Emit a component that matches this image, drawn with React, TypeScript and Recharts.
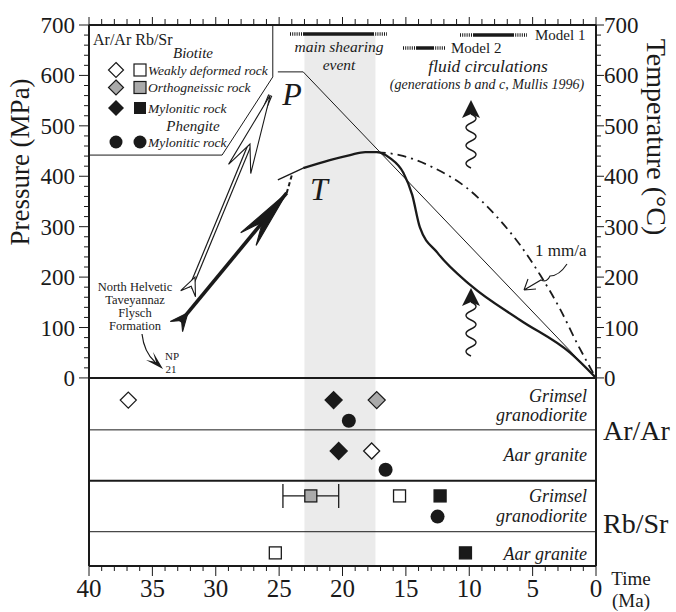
import React from "react";
import {
  ComposedChart,
  Line,
  Scatter,
  XAxis,
  YAxis,
  ReferenceArea,
  ReferenceLine,
  ErrorBar,
} from "recharts";

const SERIF = '"Liberation Serif", "Times New Roman", serif';
const INK = "#1a1a1a";

// axes
const AGE_LABELS = [40, 35, 30, 25, 20, 15, 10, 5, 0];
const AGE_TICKS = Array.from({ length: 41 }, (_, i) => 40 - i);
const PT_LABELS = [0, 100, 200, 300, 400, 500, 600, 700];
const PT_TICKS = Array.from({ length: 36 }, (_, i) => i * 20);
const Y_MIN = -373; // lower (geochronology) panel sits below 0 on the same scale

// main shearing event (Ma)
const SHEAR_EVENT = [23, 17.4];

// P-T-t paths: age (Ma) / value (MPa or °C)
const LEGEND_BOX = [
  { age: 25.5, v: 700 },
  { age: 25.5, v: 597 },
  { age: 29.5, v: 442 },
  { age: 40, v: 442 },
];
const P_LINE = [
  { age: 25.1, v: 607 },
  { age: 23.1, v: 607 },
  { age: 0, v: 0 },
];
const MODEL1_LEAD = [
  { age: 25.1, v: 393 },
  { age: 23.1, v: 416 },
];
const MODEL1 = [
  { age: 23.1, v: 416 },
  { age: 21.0, v: 432 },
  { age: 19.4, v: 442 },
  { age: 18.2, v: 448 },
  { age: 17.3, v: 448 },
  { age: 16.25, v: 436 },
  { age: 15.2, v: 407 },
  { age: 14.5, v: 363 },
  { age: 13.9, v: 299 },
  { age: 12.5, v: 248 },
  { age: 9.9, v: 184 },
  { age: 6.0, v: 115 },
  { age: 2.05, v: 50 },
  { age: 0, v: 0 },
];
const MODEL2 = [
  { age: 17.3, v: 448 },
  { age: 15.5, v: 442 },
  { age: 12.9, v: 418 },
  { age: 10.2, v: 377 },
  { age: 7.8, v: 319 },
  { age: 6.0, v: 264 },
  { age: 4.4, v: 204 },
  { age: 2.8, v: 135 },
  { age: 1.5, v: 69 },
  { age: 0, v: 0 },
];
const P_ARROW = [
  { age: 32.0, v: 178 },
  { age: 25.7, v: 561 },
];
const T_ARROW = [
  { age: 32.8, v: 111 },
  { age: 24.4, v: 367 },
];
const T_LINK = [
  { age: 24.4, v: 367 },
  { age: 24.0, v: 402 },
];

// sample rows in the lower panel
const ROW_LEVEL: Record<string, number> = {
  grimselArBt: -44,
  grimselArPh: -85,
  aarArBt: -145,
  aarArPh: -182,
  grimselRbBt: -234,
  grimselRbPh: -275,
  aarRbBt: -347,
};
const ROW_LINES = [0, -103, -204, -305];

// cooling ages (Ma)
const ARAR_WEAK = [
  { age: 36.9, row: "grimselArBt" },
  { age: 17.7, row: "aarArBt" },
];
const ARAR_ORTHO = [{ age: 17.3, row: "grimselArBt" }];
const ARAR_MYLO = [
  { age: 20.7, row: "grimselArBt" },
  { age: 20.3, row: "aarArBt" },
];
const ARAR_PHENGITE = [
  { age: 19.5, row: "grimselArPh" },
  { age: 16.6, row: "aarArPh" },
];
const RBSR_WEAK = [
  { age: 15.5, row: "grimselRbBt" },
  { age: 25.3, row: "aarRbBt" },
];
const RBSR_ORTHO = [{ age: 22.5, err: 2.2, row: "grimselRbBt" }];
const RBSR_MYLO = [
  { age: 12.3, row: "grimselRbBt" },
  { age: 10.3, row: "aarRbBt" },
];
const RBSR_PHENGITE = [{ age: 12.5, row: "grimselRbPh" }];

const place = (rows: { age: number; row: string; err?: number }[]) =>
  rows.map((d) => ({ ...d, v: ROW_LEVEL[d.row] }));

// marker shapes
const diamond = (fill: string, r: number) => (p: any) => (
  <path
    d={`M${p.cx},${p.cy - r}L${p.cx + r},${p.cy}L${p.cx},${p.cy + r}L${p.cx - r},${p.cy}Z`}
    fill={fill}
    stroke={INK}
    strokeWidth={1.3}
  />
);
const square = (fill: string, h: number) => (p: any) => (
  <rect x={p.cx - h} y={p.cy - h} width={h * 2} height={h * 2} fill={fill} stroke={INK} strokeWidth={1.3} />
);
const circle = (r: number) => (p: any) => <circle cx={p.cx} cy={p.cy} r={r} fill={INK} />;

const arrowHead =
  (angle: number, len: number, half: number, notch: number, fill: string, lead = 0) =>
  (p: any) => (
    <path
      transform={`translate(${p.cx},${p.cy}) rotate(${angle})`}
      d={`M${lead},0L${lead - len},${-half}L${lead - len + notch},0L${lead - len},${half}Z`}
      fill={fill}
      stroke={INK}
      strokeWidth={1.1}
    />
  );

// ticks
const LeftTick = ({ x, y, payload }: any) => {
  const major = PT_LABELS.includes(payload.value);
  return (
    <g>
      <line x1={x - (major ? 10 : 5)} x2={x} y1={y} y2={y} stroke={INK} strokeWidth={1} />
      {major && (
        <text x={x - 14} y={y + 8} textAnchor="end" fontSize={23} fontFamily={SERIF} fill={INK}>
          {payload.value}
        </text>
      )}
    </g>
  );
};
const RightTick = ({ x, y, payload }: any) => {
  const major = PT_LABELS.includes(payload.value);
  return (
    <g>
      <line x1={x} x2={x + (major ? 8 : 5)} y1={y} y2={y} stroke={INK} strokeWidth={1} />
      {major && (
        <text x={x + 8} y={y + 8} textAnchor="start" fontSize={23} fontFamily={SERIF} fill={INK}>
          {payload.value}
        </text>
      )}
    </g>
  );
};
const BottomTick = ({ x, y, payload }: any) => {
  const major = AGE_LABELS.includes(payload.value);
  return (
    <g>
      <line x1={x} x2={x} y1={y} y2={y + (major ? 10 : 5)} stroke={INK} strokeWidth={1} />
      {major && (
        <text x={x} y={y + 31} textAnchor="middle" fontSize={25} fontFamily={SERIF} fill={INK}>
          {payload.value}
        </text>
      )}
    </g>
  );
};
const TopTick = ({ x, y, payload }: any) => {
  const major = AGE_LABELS.includes(payload.value);
  return <line x1={x} x2={x} y1={y} y2={y - (major ? 8 : 6)} stroke={INK} strokeWidth={1} />;
};

// wavy arrow glyph (decorative)
function wavyPath(x: number, y0: number, y1: number, half: number, amp: number) {
  let d = `M${x},${y0}`;
  let y = y0;
  let s = 1;
  while (y < y1 - 0.1) {
    d += `Q${x + s * 2 * amp},${y + half / 2} ${x},${y + half}`;
    y += half;
    s = -s;
  }
  return d;
}
const WavyArrow = ({ x, tip, len }: { x: number; tip: number; len: number }) => (
  <g>
    <path d={wavyPath(x, tip + 14, tip + 14 + len, 9, 5)} fill="none" stroke={INK} strokeWidth={1.4} />
    <path d={`M${x},${tip}L${x - 9},${tip + 18}L${x},${tip + 14}L${x + 9},${tip + 18}Z`} fill={INK} />
  </g>
);

const axisLine = { stroke: INK, strokeWidth: 2 };

export default function App() {
  const it = { fontStyle: "italic" as const };
  return (
    <div style={{ position: "absolute", left: 0, top: 0, width: 676, height: 612, background: "#fff" }}>
      <ComposedChart width={676} height={612} margin={{ top: 15, right: 20, bottom: 16, left: 29 }}>
        <XAxis
          xAxisId="b"
          dataKey="age"
          type="number"
          domain={[0, 40]}
          reversed
          allowDataOverflow
          ticks={AGE_TICKS}
          interval={0}
          tickSize={0}
          tickMargin={0}
          tickLine={false}
          tick={(p: any) => <BottomTick {...p} />}
          axisLine={axisLine}
          height={30}
        />
        <XAxis
          xAxisId="t"
          orientation="top"
          dataKey="age"
          type="number"
          domain={[0, 40]}
          reversed
          allowDataOverflow
          ticks={AGE_TICKS}
          interval={0}
          tickSize={0}
          tickMargin={0}
          tickLine={false}
          tick={(p: any) => <TopTick {...p} />}
          axisLine={axisLine}
          height={10}
        />
        <YAxis
          yAxisId="l"
          dataKey="v"
          type="number"
          domain={[Y_MIN, 700]}
          allowDataOverflow
          ticks={PT_TICKS}
          interval={0}
          tickSize={0}
          tickMargin={0}
          tickLine={false}
          tick={(p: any) => <LeftTick {...p} />}
          axisLine={axisLine}
          width={60}
        />
        <YAxis
          yAxisId="r"
          orientation="right"
          dataKey="v"
          type="number"
          domain={[Y_MIN, 700]}
          allowDataOverflow
          ticks={PT_TICKS}
          interval={0}
          tickSize={0}
          tickMargin={0}
          tickLine={false}
          tick={(p: any) => <RightTick {...p} />}
          axisLine={axisLine}
          width={60}
        />

        <ReferenceArea
          xAxisId="b"
          yAxisId="l"
          x1={SHEAR_EVENT[0]}
          x2={SHEAR_EVENT[1]}
          y1={Y_MIN}
          y2={680}
          fill="#ebebeb"
          fillOpacity={1}
          stroke="none"
        />
        {ROW_LINES.map((v, i) => (
          <ReferenceLine
            key={v}
            xAxisId="b"
            yAxisId="l"
            y={v}
            stroke={INK}
            strokeWidth={i % 2 === 0 ? 2 : 1}
          />
        ))}

        <Line xAxisId="b" yAxisId="l" data={LEGEND_BOX} dataKey="v" type="linear" stroke={INK} strokeWidth={1} dot={false} isAnimationActive={false} />
        <Line xAxisId="b" yAxisId="l" data={P_LINE} dataKey="v" type="linear" stroke={INK} strokeWidth={1} dot={false} isAnimationActive={false} />
        <Line xAxisId="b" yAxisId="l" data={MODEL2} dataKey="v" type="monotone" stroke={INK} strokeWidth={1.8} strokeDasharray="9 5 2 5" dot={false} isAnimationActive={false} />
        <Line xAxisId="b" yAxisId="l" data={MODEL1_LEAD} dataKey="v" type="linear" stroke={INK} strokeWidth={1.4} dot={false} isAnimationActive={false} />
        <Line xAxisId="b" yAxisId="l" data={MODEL1} dataKey="v" type="monotone" stroke={INK} strokeWidth={2.3} dot={false} isAnimationActive={false} />

        <Line xAxisId="b" yAxisId="l" data={P_ARROW} dataKey="v" type="linear" stroke={INK} strokeWidth={4.4} dot={false} isAnimationActive={false} />
        <Line xAxisId="b" yAxisId="l" data={P_ARROW} dataKey="v" type="linear" stroke="#fff" strokeWidth={2} dot={false} isAnimationActive={false} />
        <Line xAxisId="b" yAxisId="l" data={T_ARROW} dataKey="v" type="linear" stroke={INK} strokeWidth={3.6} dot={false} isAnimationActive={false} />
        <Line xAxisId="b" yAxisId="l" data={T_LINK} dataKey="v" type="linear" stroke={INK} strokeWidth={2} strokeDasharray="4 3" dot={false} isAnimationActive={false} />

        <Scatter xAxisId="b" yAxisId="l" data={[P_ARROW[1]]} dataKey="v" shape={arrowHead(-67.5, 80, 12, 27, "#fff")} isAnimationActive={false} />
        <Scatter xAxisId="b" yAxisId="l" data={[P_ARROW[0]]} dataKey="v" shape={arrowHead(-67.5, 18, 8, 8, "#fff", 12)} isAnimationActive={false} />
        <Scatter xAxisId="b" yAxisId="l" data={[T_ARROW[1]]} dataKey="v" shape={arrowHead(-50.3, 60, 10, 22, INK)} isAnimationActive={false} />
        <Scatter xAxisId="b" yAxisId="l" data={[T_ARROW[0]]} dataKey="v" shape={arrowHead(-50.3, 18, 8, 8, INK, 12)} isAnimationActive={false} />

        <Scatter xAxisId="b" yAxisId="l" data={place(RBSR_ORTHO)} dataKey="v" shape={square("#aaaaaa", 6)} isAnimationActive={false}>
          <ErrorBar dataKey="err" direction="x" width={12} stroke={INK} strokeWidth={1.3} />
        </Scatter>
        <Scatter xAxisId="b" yAxisId="l" data={place(ARAR_WEAK)} dataKey="v" shape={diamond("#fff", 8)} isAnimationActive={false} />
        <Scatter xAxisId="b" yAxisId="l" data={place(ARAR_ORTHO)} dataKey="v" shape={diamond("#aaaaaa", 8.5)} isAnimationActive={false} />
        <Scatter xAxisId="b" yAxisId="l" data={place(ARAR_MYLO)} dataKey="v" shape={diamond(INK, 8.5)} isAnimationActive={false} />
        <Scatter xAxisId="b" yAxisId="l" data={place(ARAR_PHENGITE)} dataKey="v" shape={circle(7)} isAnimationActive={false} />
        <Scatter xAxisId="b" yAxisId="l" data={place(RBSR_WEAK)} dataKey="v" shape={square("#fff", 6)} isAnimationActive={false} />
        <Scatter xAxisId="b" yAxisId="l" data={place(RBSR_MYLO)} dataKey="v" shape={square(INK, 6)} isAnimationActive={false} />
        <Scatter xAxisId="b" yAxisId="l" data={place(RBSR_PHENGITE)} dataKey="v" shape={circle(7)} isAnimationActive={false} />
      </ComposedChart>

      <svg
        width={676}
        height={612}
        style={{ position: "absolute", left: 0, top: 0, pointerEvents: "none" }}
        fontFamily={SERIF}
        fill={INK}
      >
        {/* axis titles */}
        <text transform="translate(29,162) rotate(-90)" textAnchor="middle" fontSize={27}>
          Pressure (MPa)
        </text>
        <text transform="translate(647,137) rotate(90)" textAnchor="middle" fontSize={28}>
          Temperature (°C)
        </text>
        <text x={603} y={440} fontSize={28}>Ar/Ar</text>
        <text x={603} y={533} fontSize={28}>Rb/Sr</text>
        <text x={631} y={585} textAnchor="middle" fontSize={19}>Time</text>
        <text x={631} y={607} textAnchor="middle" fontSize={19}>(Ma)</text>

        {/* legend */}
        <text x={93} y={45} fontSize={16}>Ar/Ar Rb/Sr</text>
        <text x={193} y={58} textAnchor="middle" fontSize={15} {...it}>Biotite</text>
        <path d="M116,62.5L123.5,70L116,77.5L108.5,70Z" fill="#fff" stroke={INK} strokeWidth={1.2} />
        <rect x={134} y={64} width={12} height={12} fill="#fff" stroke={INK} strokeWidth={1.2} />
        <text x={148} y={75} fontSize={13.5} {...it}>Weakly deformed rock</text>
        <path d="M116,80L123.5,87.5L116,95L108.5,87.5Z" fill="#aaaaaa" stroke={INK} strokeWidth={1.2} />
        <rect x={134} y={81.5} width={12} height={12} fill="#aaaaaa" stroke={INK} strokeWidth={1.2} />
        <text x={148} y={92} fontSize={13.5} {...it}>Orthogneissic rock</text>
        <path d="M116,100L124,108L116,116L108,108Z" fill={INK} />
        <rect x={134} y={102} width={12} height={12} fill={INK} />
        <text x={148} y={113} fontSize={13.5} {...it}>Mylonitic rock</text>
        <text x={193} y={131} textAnchor="middle" fontSize={15} {...it}>Phengite</text>
        <circle cx={116} cy={142} r={6.5} fill={INK} />
        <circle cx={140} cy={142} r={6.5} fill={INK} />
        <text x={148} y={147} fontSize={13.5} {...it}>Mylonitic rock</text>

        {/* main shearing event */}
        <line x1={290} x2={303} y1={34} y2={34} stroke={INK} strokeWidth={3.5} strokeDasharray="1 1.2" />
        <line x1={303} x2={373} y1={34} y2={34} stroke={INK} strokeWidth={3.5} />
        <line x1={373} x2={387} y1={34} y2={34} stroke={INK} strokeWidth={3.5} strokeDasharray="1 1.2" />
        <text x={339} y={52} textAnchor="middle" fontSize={15.5} {...it}>main shearing</text>
        <text x={339} y={70} textAnchor="middle" fontSize={15.5} {...it}>event</text>

        {/* model keys */}
        <line x1={460} x2={473} y1={35} y2={35} stroke={INK} strokeWidth={3.5} strokeDasharray="1 1.2" />
        <line x1={473} x2={513} y1={35} y2={35} stroke={INK} strokeWidth={3.5} />
        <line x1={513} x2={527} y1={35} y2={35} stroke={INK} strokeWidth={3.5} strokeDasharray="1 1.2" />
        <text x={535} y={40} fontSize={15}>Model 1</text>
        <line x1={403} x2={416} y1={48} y2={48} stroke={INK} strokeWidth={3.5} strokeDasharray="1 1.2" />
        <line x1={416} x2={433} y1={48} y2={48} stroke={INK} strokeWidth={3.5} />
        <line x1={433} x2={446} y1={48} y2={48} stroke={INK} strokeWidth={3.5} strokeDasharray="1 1.2" />
        <text x={451} y={53} fontSize={15}>Model 2</text>

        <text x={488} y={72} textAnchor="middle" fontSize={17.5} {...it}>fluid circulations</text>
        <text x={487} y={89} textAnchor="middle" fontSize={14} {...it}>
          (generations b and c, Mullis 1996)
        </text>

        {/* path labels */}
        <text x={292} y={105} textAnchor="middle" fontSize={32} {...it}>P</text>
        <text x={319} y={200} textAnchor="middle" fontSize={32} {...it}>T</text>

        <WavyArrow x={471} tip={100} len={54} />
        <WavyArrow x={471} tip={288} len={54} />

        {/* 1 mm/a */}
        <text x={535} y={256} fontSize={17}>1 mm/a</text>
        <path d="M567,264Q559,276 550,276Q547,283 541,280L524,290M524,290L528,279M524,290L536,289" fill="none" stroke={INK} strokeWidth={1.1} />

        {/* North Helvetic flysch */}
        <g fontSize={12.5} textAnchor="middle">
          <text x={135} y={291}>North Helvetic</text>
          <text x={135} y={304}>Taveyannaz</text>
          <text x={135} y={317}>Flysch</text>
          <text x={135} y={330}>Formation</text>
        </g>
        <path d="M142,334Q144,352 155,362" fill="none" stroke={INK} strokeWidth={1.2} />
        <path d="M163,369L146,360L156,362L153,352Z" fill={INK} />
        <text x={172} y={360} textAnchor="middle" fontSize={11}>NP</text>
        <text x={171} y={373} textAnchor="middle" fontSize={11}>21</text>

        {/* sample rows */}
        <g fontSize={18} textAnchor="end" {...it}>
          <text x={587} y={402}>Grimsel</text>
          <text x={587} y={421}>granodiorite</text>
          <text x={587} y={461}>Aar granite</text>
          <text x={587} y={502}>Grimsel</text>
          <text x={587} y={522}>granodiorite</text>
          <text x={587} y={560}>Aar granite</text>
        </g>
      </svg>
    </div>
  );
}
